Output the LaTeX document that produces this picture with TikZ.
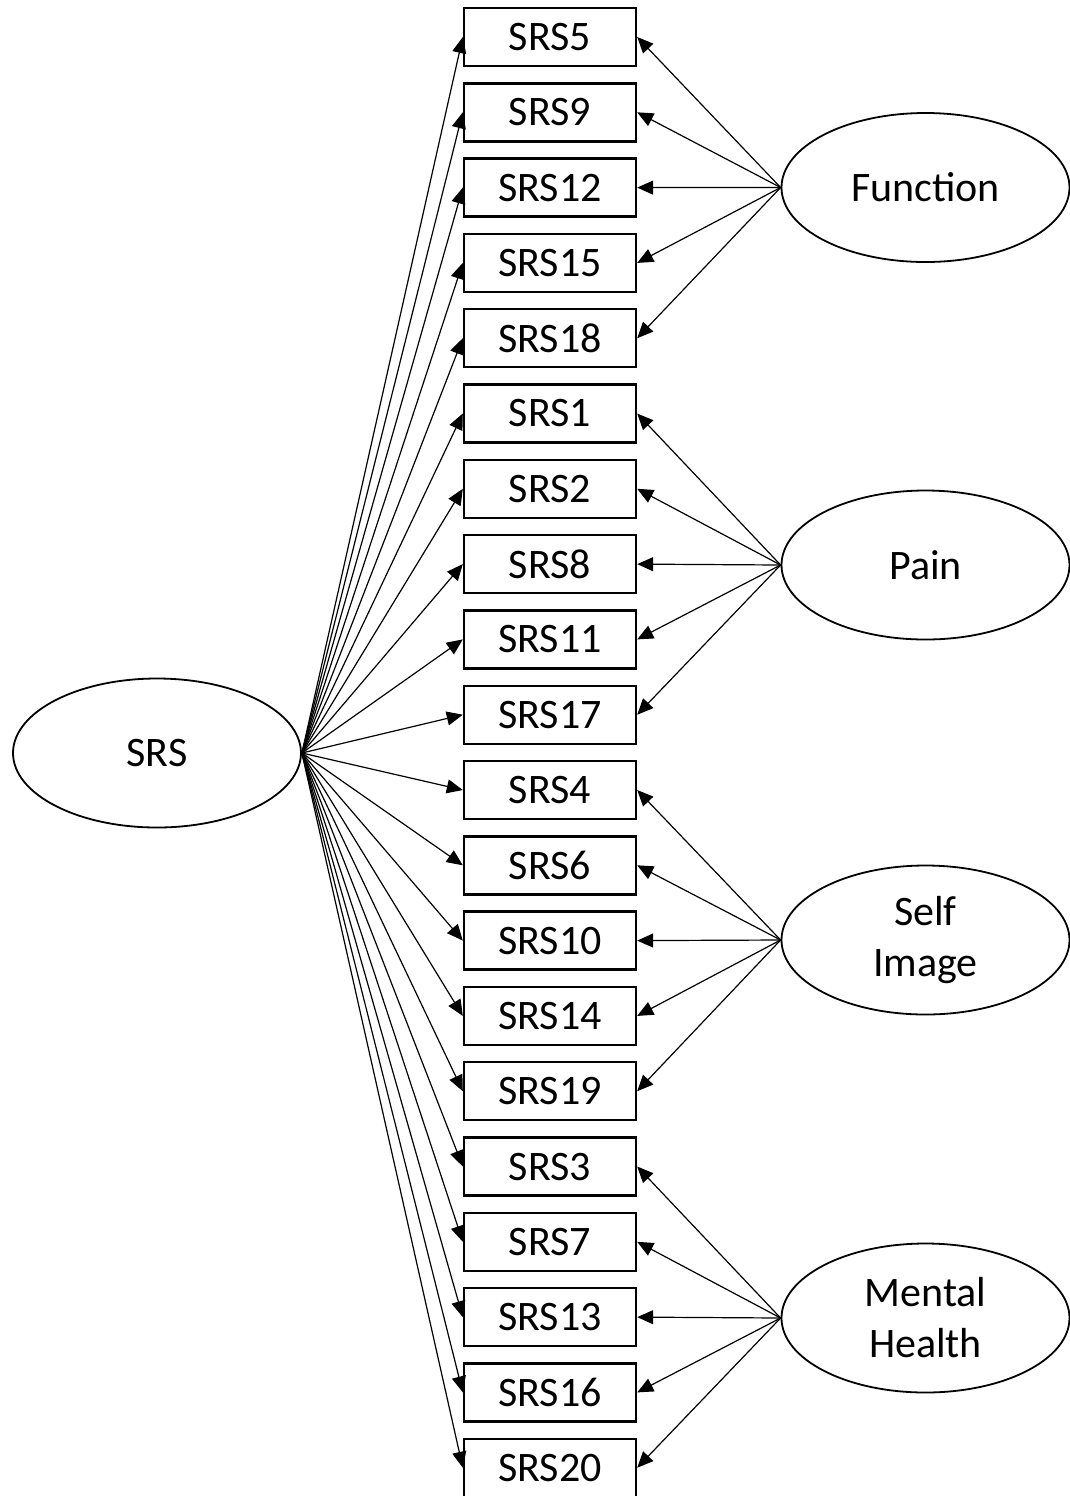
\documentclass[tikz,border=0pt]{standalone}
\usepackage{fontspec}
\setmainfont{Carlito}
\usetikzlibrary{shapes.geometric,arrows.meta}
\begin{document}
\begin{tikzpicture}[x=0.5pt,y=-0.5pt,
  font=\fontsize{21}{25.5}\selectfont,
  item/.style={draw,line width=1.2pt,minimum width=86pt,minimum height=29pt,inner sep=0pt},
  latent/.style={draw,ellipse,line width=0.9pt,minimum width=144pt,minimum height=74.5pt,inner sep=0pt,align=center},
  load/.style={line width=0.6pt,-{Triangle[length=8pt,width=7pt]}}]
\useasboundingbox (0,0) rectangle (1070,1496);
% observed items, top to bottom
\foreach \name [count=\i from 0] in {5,9,12,15,18,1,2,8,11,17,4,6,10,14,19,3,7,13,16,20}
  \node[item] (s\name) at (550,{37+75.3*\i}) {SRS\name};
% latent variables
\node[latent] (srs) at (157,753) {SRS};
\node[latent] (fun) at (925.5,187.5) {Function};
\node[latent] (pain) at (925.5,565) {Pain};
\node[latent] (self) at (925.5,940) {Self\\Image};
\node[latent] (ment) at (925.5,1318) {Mental\\Health};
% general factor loadings
\foreach \name in {5,9,12,15,18,1,2,8,11,17,4,6,10,14,19,3,7,13,16,20}
  \draw[load] (srs.east) -- (s\name.west);
% specific factor loadings
\foreach \name in {5,9,12,15,18} \draw[load] (fun.west) -- (s\name.east);
\foreach \name in {1,2,8,11,17} \draw[load] (pain.west) -- (s\name.east);
\foreach \name in {4,6,10,14,19} \draw[load] (self.west) -- (s\name.east);
\foreach \name in {3,7,13,16,20} \draw[load] (ment.west) -- (s\name.east);
\end{tikzpicture}
\end{document}
